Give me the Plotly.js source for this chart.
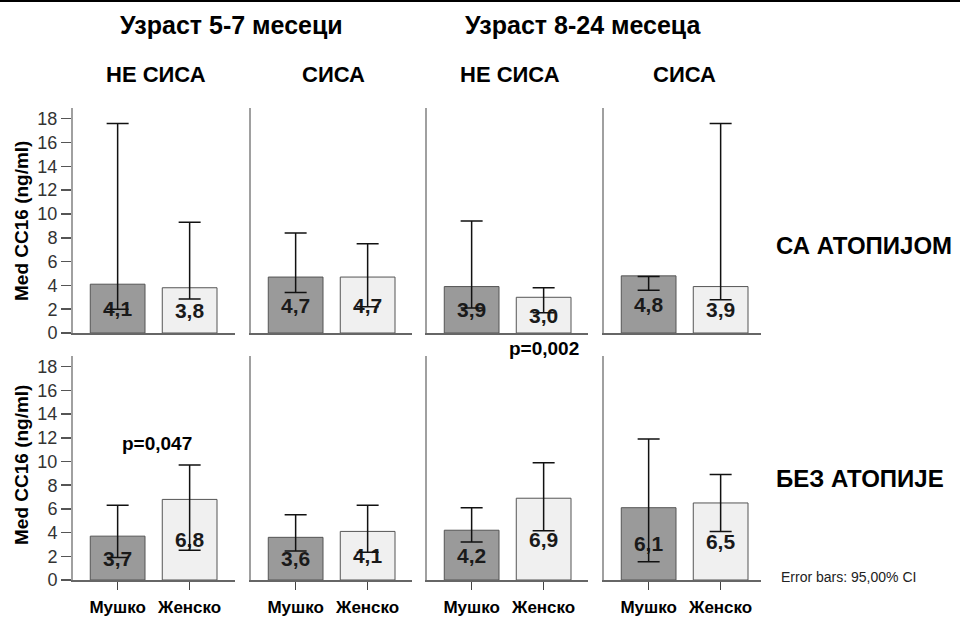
<!DOCTYPE html>
<html>
<head>
<meta charset="utf-8">
<script src="https://cdn.plot.ly/plotly-3.0.1.min.js"></script>
<style>html,body{margin:0;padding:0;background:#fff}#chart{width:960px;height:619px}</style>
</head>
<body>
<div id="chart"></div>
<script>
// ---------------- data ----------------
const categories = ['Мушко', 'Женско'];
const ageTitles = ['Узраст 5-7 месеци', 'Узраст 8-24 месеца'];
const feedingTitles = ['НЕ СИСА', 'СИСА', 'НЕ СИСА', 'СИСА'];
const rowTitles = ['СА АТОПИЈОМ', 'БЕЗ АТОПИЈЕ'];
const yTickValues = [0, 2, 4, 6, 8, 10, 12, 14, 16, 18];
const yTitle = 'Med CC16 (ng/ml)';
const errorNote = 'Error bars: 95,00% CI';
const pValues = ['p=0,047', 'p=0,002'];

// row 1: with atopy; each panel = [male, female]
const atopyMean  = [[4.1, 3.8], [4.7, 4.7], [3.9, 3.0], [4.8, 3.9]];
const atopyUpper = [[17.6, 9.3], [8.4, 7.5], [9.4, 3.8], [4.75, 17.6]];
const atopyLower = [[2.0, 2.85], [3.4, 2.2], [2.1, 1.7], [3.6, 2.8]];
// row 2: without atopy
const noAtopyMean  = [[3.7, 6.8], [3.6, 4.1], [4.2, 6.9], [6.1, 6.5]];
const noAtopyUpper = [[6.3, 9.7], [5.5, 6.3], [6.1, 9.9], [11.9, 8.9]];
const noAtopyLower = [[1.9, 2.5], [2.45, 2.35], [3.2, 4.15], [1.55, 4.1]];

// ---------------- layout helpers ----------------
const W = 960, H = 619;
const FONT = 'Liberation Sans, Arial, sans-serif';
const panelX = [[73, 235], [251, 412], [427, 588], [604, 761]];
const rowY = [[108, 333], [356, 580]]; // top, bottom pixels
const titleCenterY = [221, 465];
const pxPerCat = 72;
const fx = p => p / W;
const fy = p => 1 - p / H;

const rows = [
  {mean: atopyMean, upper: atopyUpper, lower: atopyLower},
  {mean: noAtopyMean, upper: noAtopyUpper, lower: noAtopyLower}
];

const traces = [];
const layout = {
  width: W, height: H,
  margin: {l: 0, r: 0, t: 0, b: 0},
  paper_bgcolor: '#fff', plot_bgcolor: 'rgba(0,0,0,0)',
  showlegend: false,
  font: {family: FONT, color: '#000'},
  annotations: [],
  shapes: [{type: 'line', xref: 'paper', yref: 'paper', x0: 0, x1: 1, y0: fy(1), y1: fy(1),
            line: {color: '#000', width: 2}}]
};

rows.forEach((row, r) => {
  panelX.forEach((px, c) => {
    const i = r * 4 + c + 1;
    const mean = row.mean[c], up = row.upper[c], lo = row.lower[c];
    traces.push({
      type: 'bar',
      x: categories,
      y: mean,
      xaxis: 'x' + i, yaxis: 'y' + i,
      width: 0.76,
      marker: {color: ['#9a9a9a', '#f0f0f0'], line: {color: '#555', width: 1}},
      text: mean.map(v => v.toFixed(1).replace('.', ',')),
      textposition: 'inside',
      insidetextanchor: 'middle',
      constraintext: 'none',
      textangle: 0,
      textfont: {family: FONT, size: 21, weight: 'bold', color: '#1a1a1a'},
      error_y: {
        type: 'data', symmetric: false,
        array: up.map((u, k) => u - mean[k]),
        arrayminus: lo.map((l, k) => mean[k] - l),
        color: '#111', thickness: 1.5, width: 11
      },
      hoverinfo: 'skip'
    });
    const w = px[1] - px[0];
    layout['xaxis' + i] = {
      domain: [fx(px[0]), fx(px[1])],
      anchor: 'y' + i,
      type: 'category',
      range: [-0.62, -0.62 + w / pxPerCat],
      showline: true, linecolor: '#666', linewidth: 1.5,
      showgrid: false, zeroline: false,
      ticks: r === 1 ? 'outside' : '',
      ticklen: 8, tickcolor: '#444', tickwidth: 1.5,
      showticklabels: r === 1,
      ticklabelstandoff: 3,
      tickfont: {family: FONT, size: 17, weight: 'bold', color: '#000'},
      fixedrange: true
    };
    layout['yaxis' + i] = {
      domain: [fy(rowY[r][1]), fy(rowY[r][0])],
      anchor: 'x' + i,
      range: [0, 18.9],
      showline: true, linecolor: '#a0a0a0', linewidth: 2,
      showgrid: false, zeroline: false,
      tickvals: yTickValues,
      ticks: c === 0 ? 'outside' : '',
      ticklen: 10, tickcolor: '#555', tickwidth: 1.5,
      showticklabels: c === 0,
      tickfont: {family: FONT, size: 18, color: '#333'},
      fixedrange: true
    };
  });
  // y axis title per row
  layout.annotations.push({
    text: yTitle, xref: 'paper', yref: 'paper',
    x: fx(21), y: fy(titleCenterY[r]),
    textangle: -90, showarrow: false, xanchor: 'center', yanchor: 'middle',
    font: {family: FONT, size: 19, weight: 'bold', color: '#000'}
  });
  // row label
  layout.annotations.push({
    text: rowTitles[r], xref: 'paper', yref: 'paper',
    x: fx(774), y: fy(r === 0 ? 245 : 478),
    showarrow: false, xanchor: 'left', yanchor: 'middle',
    font: {family: FONT, size: 24, weight: 'bold', color: '#000'}
  });
});

// age titles
[231, 583].forEach((cx, k) => layout.annotations.push({
  text: ageTitles[k], xref: 'paper', yref: 'paper', x: fx(cx), y: fy(25),
  showarrow: false, xanchor: 'center', yanchor: 'middle',
  font: {family: FONT, size: 25, weight: 'bold', color: '#000'}
}));
// feeding subtitles
panelX.forEach((px, c) => layout.annotations.push({
  text: feedingTitles[c], xref: 'paper', yref: 'paper', x: fx((px[0] + px[1]) / 2 + 2), y: fy(74),
  showarrow: false, xanchor: 'center', yanchor: 'middle',
  font: {family: FONT, size: 22, weight: 'bold', color: '#000'}
}));
// p-values
layout.annotations.push({
  text: pValues[0], xref: 'paper', yref: 'paper', x: fx(157), y: fy(443),
  showarrow: false, xanchor: 'center', yanchor: 'middle',
  font: {family: FONT, size: 19, weight: 'bold', color: '#000'}
});
layout.annotations.push({
  text: pValues[1], xref: 'paper', yref: 'paper', x: fx(544), y: fy(348),
  showarrow: false, xanchor: 'center', yanchor: 'middle',
  font: {family: FONT, size: 19, weight: 'bold', color: '#000'}
});
// error note
layout.annotations.push({
  text: errorNote, xref: 'paper', yref: 'paper', x: fx(779), y: fy(577),
  showarrow: false, xanchor: 'left', yanchor: 'middle',
  font: {family: FONT, size: 14, color: '#222'}
});

Plotly.newPlot('chart', traces, layout, {staticPlot: true, displayModeBar: false});
</script>
</body>
</html>
